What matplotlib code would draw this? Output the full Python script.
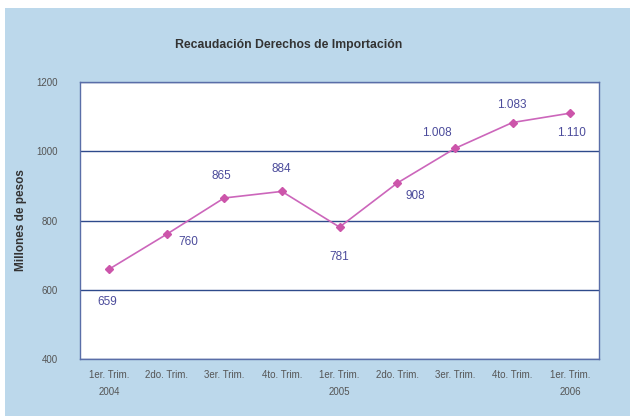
import matplotlib
matplotlib.use("Agg")
import matplotlib.pyplot as plt
from matplotlib.patches import Rectangle

plt.rcParams["font.family"] = ["Liberation Sans", "DejaVu Sans"]

categories = ["1er. Trim.\n2004", "2do. Trim.", "3er. Trim.", "4to. Trim.",
              "1er. Trim.\n2005", "2do. Trim.", "3er. Trim.", "4to. Trim.",
              "1er. Trim.\n2006"]
values = [659, 760, 865, 884, 781, 908, 1008, 1083, 1110]
labels = ["659", "760", "865", "884", "781", "908", "1.008", "1.083", "1.110"]
yticks = [400, 600, 800, 1000, 1200]

# label offsets (pixels, converted to points)
offsets_px = [(-2, -33), (22, -8), (-3, 22), (-1, 22), (0, -30), (18, -13), (-18, 15), (-1, 18), (1, -20)]

fig = plt.figure(figsize=(6.3, 4.16), dpi=100, facecolor="white")
bg = Rectangle((5/630, 0), 1, 1 - 8/416, transform=fig.transFigure,
               facecolor="#BCD8EB", edgecolor="none", zorder=-10)
fig.patches.append(bg)

ax = fig.add_axes([80/630, 1 - 359/416, 519/630, 277/416])
ax.set_facecolor("white")
x = list(range(len(values)))
ax.plot(x, values, color="#CC66BB", lw=1.2, marker="D", markersize=4,
        markerfacecolor="#CC55AA", markeredgecolor="#CC55AA", zorder=3)
for xi, v, lab, off in zip(x, values, labels, offsets_px):
    ax.annotate(lab, (xi, v), xytext=(off[0]*0.72, off[1]*0.72), textcoords="offset points",
                ha="center", va="center", fontsize=8.5, color="#4B4B9B")

ax.set_xlim(-0.5, len(values) - 0.5)
ax.set_ylim(400, 1200)
ax.set_yticks(yticks)
ax.set_yticklabels([str(t) for t in yticks], fontsize=7, color="#555555")
ax.set_xticks(x)
ax.set_xticklabels(categories, fontsize=7, color="#555555", linespacing=1.9)
ax.tick_params(length=0, pad=8)
ax.tick_params(axis="y", pad=16)
ax.grid(axis="y", color="#2E4A8B", lw=1.0)
ax.set_axisbelow(True)
for s in ax.spines.values():
    s.set_color("#5A6EA8")
    s.set_linewidth(1.0)

ax.set_ylabel("Millones de pesos", fontsize=8.5, fontweight="bold", color="#333333", labelpad=7)
fig.text(289/630, 1 - 45/416, "Recaudación Derechos de Importación", ha="center", va="center",
         fontsize=8.8, fontweight="bold", color="#333333")

fig.savefig("out.png", dpi=100, facecolor=fig.get_facecolor())
